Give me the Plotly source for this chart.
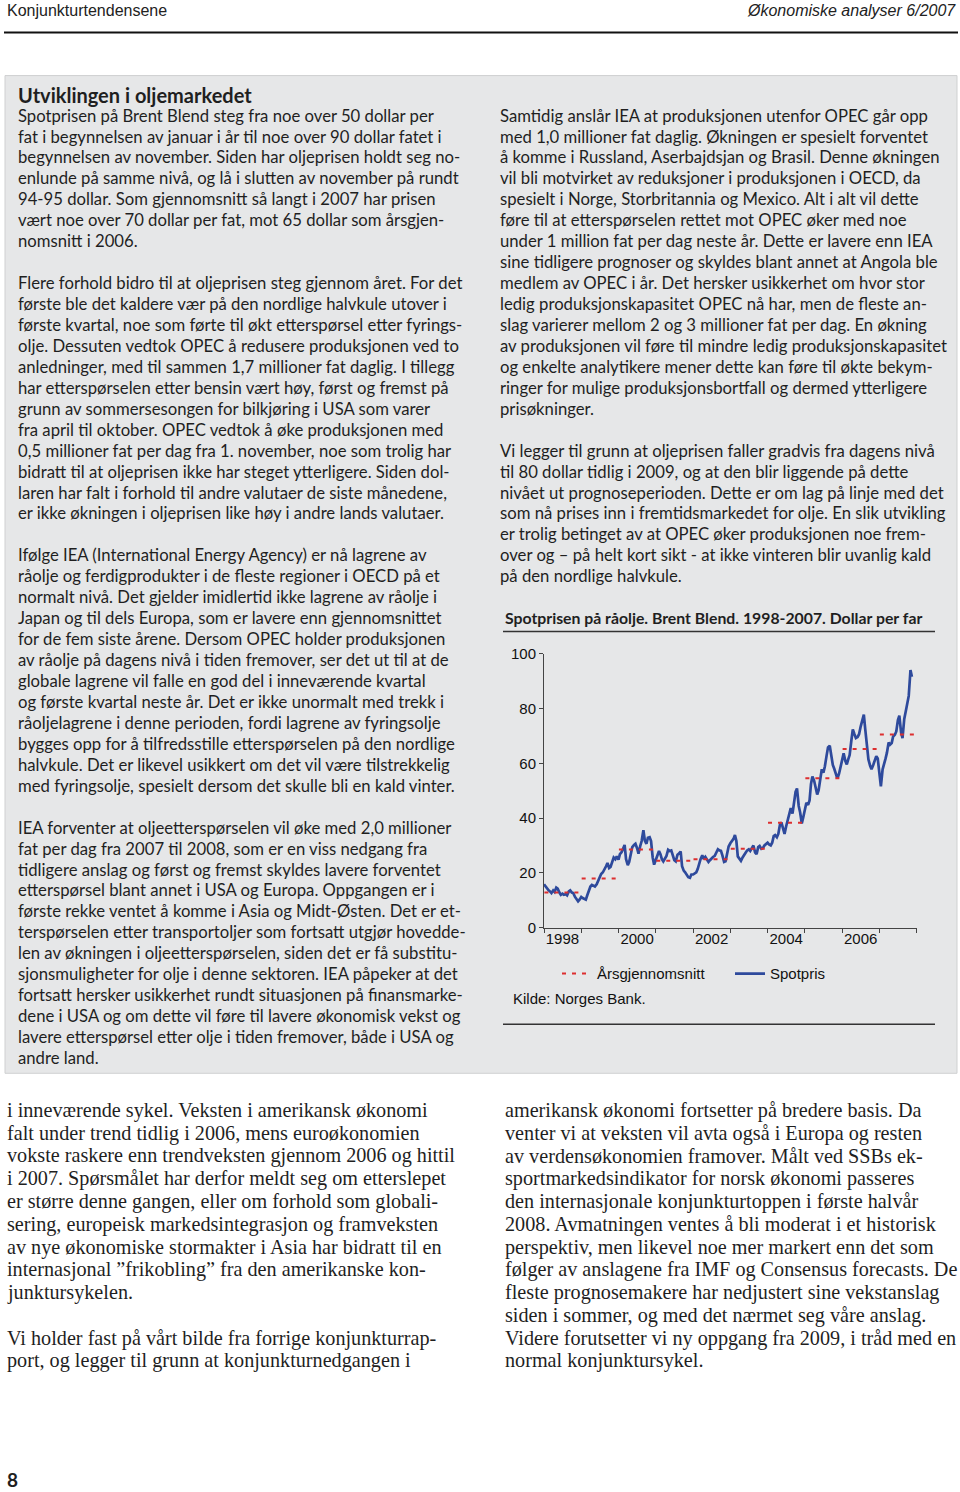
import plotly.graph_objects as go
import pandas as pd

W, H = 960, 1492

# ---------------- data ----------------
# Brent Blend spot price, semi-monthly readings (1st and 15th), USD per barrel
spot_1998 = [15.8, 15.0, 14.2, 13.6, 13.2, 12.6, 13.6, 13.0, 14.6, 14.2, 12.8, 12.0,
             12.4, 12.0, 12.2, 11.8, 13.2, 13.6, 12.8, 12.6, 11.2, 10.4, 9.6, 10.2]
spot_1999 = [11.2, 10.8, 10.4, 10.2, 11.8, 13.6, 15.0, 15.6, 15.4, 15.0, 15.8, 17.2,
             18.6, 19.6, 20.2, 21.0, 22.4, 23.6, 21.8, 22.2, 24.4, 25.6, 25.0, 26.0]
spot_2000 = [24.8, 26.8, 27.6, 29.0, 30.2, 25.0, 22.8, 24.0, 27.2, 29.4, 30.2, 30.6,
             29.0, 27.0, 29.8, 31.6, 35.6, 31.8, 30.6, 32.8, 33.0, 31.6, 25.6, 23.0]
spot_2001 = [24.8, 26.2, 28.0, 26.8, 25.0, 24.2, 25.4, 26.2, 28.4, 28.0, 28.2, 26.0,
             24.6, 24.2, 26.6, 27.0, 27.8, 22.4, 20.8, 20.2, 19.2, 18.4, 18.2, 19.4]
spot_2002 = [19.4, 19.8, 20.2, 21.4, 23.6, 25.0, 26.4, 25.0, 25.8, 24.8, 24.0, 24.6,
             25.4, 25.8, 26.2, 27.6, 28.6, 28.2, 28.0, 26.4, 24.0, 24.2, 27.0, 29.6]
spot_2003 = [30.8, 31.6, 32.4, 33.8, 31.6, 26.0, 25.0, 24.4, 25.6, 26.6, 27.4, 28.2,
             28.6, 28.0, 29.4, 30.0, 27.4, 26.8, 29.4, 29.8, 28.8, 29.0, 30.0, 30.4]
spot_2004 = [31.0, 30.4, 30.0, 31.0, 33.4, 33.8, 33.0, 34.2, 37.6, 38.4, 35.4, 34.2,
             37.0, 39.2, 42.4, 43.6, 41.6, 45.0, 49.6, 50.8, 44.4, 42.0, 38.0, 40.2]
spot_2005 = [42.8, 45.6, 44.8, 46.4, 52.4, 55.2, 53.6, 51.2, 48.6, 50.2, 55.0, 57.8,
             56.6, 58.8, 62.8, 65.8, 66.4, 62.2, 59.4, 58.0, 56.2, 54.4, 56.2, 58.4]
spot_2006 = [61.4, 63.6, 60.8, 59.6, 61.4, 63.0, 68.4, 72.4, 70.6, 69.2, 69.6, 70.6,
             73.4, 75.8, 77.8, 72.4, 64.6, 61.4, 59.2, 57.8, 59.4, 60.6, 62.6, 61.8]
spot_2007 = [55.4, 51.6, 57.8, 59.4, 61.6, 63.8, 67.6, 66.8, 67.4, 69.8, 70.4, 71.6,
             75.8, 77.4, 71.2, 69.2, 76.2, 78.8, 81.6, 84.6, 94.0, 91.6]

avg_years = [1998, 1999, 2000, 2001, 2002, 2003, 2004, 2005, 2006, 2007]
avg_values = [12.8, 17.9, 28.5, 24.4, 25.0, 28.8, 38.3, 54.5, 65.2, 70.5]

year_ticks = [str(y) for y in range(1998, 2009)]
year_labels = ["1998", "2000", "2002", "2004", "2006"]
y_ticks = [0, 20, 40, 60, 80, 100]

chart_title = "Spotprisen på råolje. Brent Blend. 1998-2007. Dollar per far"
name_avg = "Årsgjennomsnitt"
name_spot = "Spotpris"
source = "Kilde: Norges Bank."

spot_values = (spot_1998 + spot_1999 + spot_2000 + spot_2001 + spot_2002 +
               spot_2003 + spot_2004 + spot_2005 + spot_2006 + spot_2007)
spot_dates = pd.date_range("1998-01-01", periods=len(spot_values), freq="SMS")

avg_x, avg_y = [], []
for yr, v in zip(avg_years, avg_values):
    avg_x += [f"{yr}-01-05", f"{yr}-12-20", None]
    avg_y += [v, v, None]

# ---------------- text ----------------
header_left = "Konjunkturtendensene"
header_right = "Økonomiske analyser 6/2007"
box_title = "Utviklingen i oljemarkedet"
page_no = "8"

p1 = ["Spotprisen på Brent Blend steg fra noe over 50 dollar per",
      "fat i begynnelsen av januar i år til noe over 90 dollar fatet i",
      "begynnelsen av november. Siden har oljeprisen holdt seg no-",
      "enlunde på samme nivå, og lå i slutten av november på rundt",
      "94-95 dollar. Som gjennomsnitt så langt i 2007 har prisen",
      "vært noe over 70 dollar per fat, mot 65 dollar som årsgjen-",
      "nomsnitt i 2006."]
p2 = ["Flere forhold bidro til at oljeprisen steg gjennom året. For det",
      "første ble det kaldere vær på den nordlige halvkule utover i",
      "første kvartal, noe som førte til økt etterspørsel etter fyrings-",
      "olje. Dessuten vedtok OPEC å redusere produksjonen ved to",
      "anledninger, med til sammen 1,7 millioner fat daglig. I tillegg",
      "har etterspørselen etter bensin vært høy, først og fremst på",
      "grunn av sommersesongen for bilkjøring i USA som varer",
      "fra april til oktober. OPEC vedtok å øke produksjonen med",
      "0,5 millioner fat per dag fra 1. november, noe som trolig har",
      "bidratt til at oljeprisen ikke har steget ytterligere. Siden dol-",
      "laren har falt i forhold til andre valutaer de siste månedene,",
      "er ikke økningen i oljeprisen like høy i andre lands valutaer."]
p3 = ["Ifølge IEA (International Energy Agency) er nå lagrene av",
      "råolje og ferdigprodukter i de fleste regioner i OECD på et",
      "normalt nivå. Det gjelder imidlertid ikke lagrene av råolje i",
      "Japan og til dels Europa, som er lavere enn gjennomsnittet",
      "for de fem siste årene. Dersom OPEC holder produksjonen",
      "av råolje på dagens nivå i tiden fremover, ser det ut til at de",
      "globale lagrene vil falle en god del i inneværende kvartal",
      "og første kvartal neste år. Det er ikke unormalt med trekk i",
      "råoljelagrene i denne perioden, fordi lagrene av fyringsolje",
      "bygges opp for å tilfredsstille etterspørselen på den nordlige",
      "halvkule. Det er likevel usikkert om det vil være tilstrekkelig",
      "med fyringsolje, spesielt dersom det skulle bli en kald vinter."]
p4 = ["IEA forventer at oljeetterspørselen vil øke med 2,0 millioner",
      "fat per dag fra 2007 til 2008, som er en viss nedgang fra",
      "tidligere anslag og først og fremst skyldes lavere forventet",
      "etterspørsel blant annet i USA og Europa. Oppgangen er i",
      "første rekke ventet å komme i Asia og Midt-Østen. Det er et-",
      "terspørselen etter transportoljer som fortsatt utgjør hovedde-",
      "len av økningen i oljeetterspørselen, siden det er få substitu-",
      "sjonsmuligheter for olje i denne sektoren. IEA påpeker at det",
      "fortsatt hersker usikkerhet rundt situasjonen på finansmarke-",
      "dene i USA og om dette vil føre til lavere økonomisk vekst og",
      "lavere etterspørsel etter olje i tiden fremover, både i USA og",
      "andre land."]
p5 = ["Samtidig anslår IEA at produksjonen utenfor OPEC går opp",
      "med 1,0 millioner fat daglig. Økningen er spesielt forventet",
      "å komme i Russland, Aserbajdsjan og Brasil. Denne økningen",
      "vil bli motvirket av reduksjoner i produksjonen i OECD, da",
      "spesielt i Norge, Storbritannia og Mexico. Alt i alt vil dette",
      "føre til at etterspørselen rettet mot OPEC øker med noe",
      "under 1 million fat per dag neste år. Dette er lavere enn IEA",
      "sine tidligere prognoser og skyldes blant annet at Angola ble",
      "medlem av OPEC i år. Det hersker usikkerhet om hvor stor",
      "ledig produksjonskapasitet OPEC nå har, men de fleste an-",
      "slag varierer mellom 2 og 3 millioner fat per dag. En økning",
      "av produksjonen vil føre til mindre ledig produksjonskapasitet",
      "og enkelte analytikere mener dette kan føre til økte bekym-",
      "ringer for mulige produksjonsbortfall og dermed ytterligere",
      "prisøkninger."]
p6 = ["Vi legger til grunn at oljeprisen faller gradvis fra dagens nivå",
      "til 80 dollar tidlig i 2009, og at den blir liggende på dette",
      "nivået ut prognoseperioden. Dette er om lag på linje med det",
      "som nå prises inn i fremtidsmarkedet for olje. En slik utvikling",
      "er trolig betinget av at OPEC øker produksjonen noe frem-",
      "over og – på helt kort sikt - at ikke vinteren blir uvanlig kald",
      "på den nordlige halvkule."]
b1 = ["i inneværende sykel. Veksten i amerikansk økonomi",
      "falt under trend tidlig i 2006, mens euroøkonomien",
      "vokste raskere enn trendveksten gjennom 2006 og hittil",
      "i 2007. Spørsmålet har derfor meldt seg om etterslepet",
      "er større denne gangen, eller om forhold som globali-",
      "sering, europeisk markedsintegrasjon og framveksten",
      "av nye økonomiske stormakter i Asia har bidratt til en",
      "internasjonal ”frikobling” fra den amerikanske kon-",
      "junktursykelen."]
b2 = ["Vi holder fast på vårt bilde fra forrige konjunkturrap-",
      "port, og legger til grunn at konjunkturnedgangen i"]
b3 = ["amerikansk økonomi fortsetter på bredere basis. Da",
      "venter vi at veksten vil avta også i Europa og resten",
      "av verdensøkonomien framover. Målt ved SSBs ek-",
      "sportmarkedsindikator for norsk økonomi passeres",
      "den internasjonale konjunkturtoppen i første halvår",
      "2008. Avmatningen ventes å bli moderat i et historisk",
      "perspektiv, men likevel noe mer markert enn det som",
      "følger av anslagene fra IMF og Consensus forecasts. De",
      "fleste prognosemakere har nedjustert sine vekstanslag",
      "siden i sommer, og med det nærmet seg våre anslag.",
      "Videre forutsetter vi ny oppgang fra 2009, i tråd med en",
      "normal konjunktursykel."]

# ---------------- figure ----------------
BLUE = "#2e4a9c"
RED = "#dc2f2f"
GREY = "#e6e7e8"
INK = "#1f1f1f"
SANS = "Lato, 'Noto Sans', sans-serif"
ARIAL = "'Liberation Sans', Arial, sans-serif"
SERIF = "'Liberation Serif', 'DejaVu Serif', serif"

# vertical calibration of page positions (observed offset/scale of the capture)
Y_OFF = 8.4
Y_SCALE = 0.9889


def px(x):
    return x / W


def py(y):
    return 1 - ((y - Y_OFF) / Y_SCALE) / H


fig = go.Figure()

fig.add_trace(go.Scatter(
    x=spot_dates, y=spot_values, mode="lines", name=name_spot,
    line=dict(color=BLUE, width=2.7), legendrank=2, hoverinfo="skip"))
fig.add_trace(go.Scatter(
    x=avg_x, y=avg_y, mode="lines", name=name_avg, xaxis="x2",
    line=dict(color=RED, width=2, dash="4px,6px"), legendrank=1,
    hoverinfo="skip", connectgaps=False))

x_dom = [px(544), px(916.7)]
y_dom = [py(927.3), py(653.3)]
x_range = ["1998-01-01", "2008-01-01"]

fig.update_layout(
    width=W, height=H,
    margin=dict(l=0, r=0, t=0, b=0),
    paper_bgcolor="white",
    plot_bgcolor="rgba(0,0,0,0)",
    xaxis=dict(domain=x_dom, range=x_range, type="date",
               tickvals=[f"{y}-01-01" for y in year_ticks],
               showticklabels=False, ticks="outside", ticklen=4, tickwidth=1,
               tickcolor="#444", showline=True, linecolor="#444", linewidth=1,
               showgrid=False, zeroline=False, anchor="y", fixedrange=True),
    xaxis2=dict(domain=x_dom, range=x_range, type="date", overlaying="x",
                anchor="y", side="bottom",
                tickvals=[f"{y}-07-01" for y in year_labels], ticktext=year_labels,
                ticks="", showline=False, showgrid=False, zeroline=False,
                tickfont=dict(family=ARIAL, size=15, color="#111")),
    yaxis=dict(domain=y_dom, range=[0, 100], tickvals=y_ticks,
               ticks="outside", ticklen=4, tickwidth=1, tickcolor="#444",
               showline=True, linecolor="#444", linewidth=1,
               showgrid=False, zeroline=False, anchor="x",
               tickfont=dict(family=ARIAL, size=15, color="#111")),
    showlegend=True,
    legend=dict(orientation="h", x=px(557), y=py(957), xanchor="left",
                yanchor="top", bgcolor="rgba(0,0,0,0)",
                font=dict(family=ARIAL, size=15, color="#111"),
                entrywidth=128, entrywidthmode="pixels", tracegroupgap=0),
)

shapes = [
    # grey article box
    dict(type="rect", xref="paper", yref="paper", x0=px(5), x1=px(957),
         y0=py(1073), y1=py(75), fillcolor=GREY,
         line=dict(color="#cfd0d1", width=1), layer="below"),
    # header rule
    dict(type="line", xref="paper", yref="paper", x0=px(4), x1=px(958),
         y0=py(32), y1=py(32), line=dict(color="#111", width=2)),
    # chart title rule
    dict(type="line", xref="paper", yref="paper", x0=px(503), x1=px(935),
         y0=py(631), y1=py(631), line=dict(color="#333", width=1.5)),
    # chart bottom rule
    dict(type="line", xref="paper", yref="paper", x0=px(503), x1=px(935),
         y0=py(1024), y1=py(1024), line=dict(color="#333", width=1.5)),
]
fig.update_layout(shapes=shapes)


def line_text(x, y, s, size, family, color=INK, xanchor="left", bold=False,
              italic=False):
    if bold:
        s = f"<b>{s}</b>"
    if italic:
        s = f"<i>{s}</i>"
    fig.add_annotation(
        xref="paper", yref="paper", x=px(x), y=py(y),
        xanchor=xanchor, yanchor="middle", align="left", showarrow=False,
        text=s, font=dict(family=family, size=size, color=color))


def column(x, y0, step, lines, size, family, color=INK):
    for i, ln in enumerate(lines):
        if ln:
            line_text(x, y0 + i * step, ln, size, family, color)


line_text(5, 10, header_left, 16, ARIAL, "#222")
line_text(958, 10, header_right, 16, ARIAL, "#222", xanchor="right", italic=True)

BODY = 16.7
STEP = 20.95
line_text(16, 94, box_title, 20, SANS, bold=True)
column(16, 115, STEP, p1 + [""] + p2 + [""] + p3 + [""] + p4, BODY, SANS)
column(498, 115, STEP, p5 + [""] + p6, BODY, SANS)

line_text(503, 617, chart_title, 15.8, SANS, bold=True)
line_text(511, 998, source, 15, ARIAL, "#111")

SER = 20.2
SSTEP = 22.8
column(5, 1110, SSTEP, b1 + [""] + b2, SER, SERIF)
column(503, 1110, SSTEP, b3, SER, SERIF)

line_text(5, 1479, page_no, 19, SANS, bold=True)

post = (
    "document.body.style.margin='0px';"
    "document.documentElement.style.overflow='hidden';"
)

fig.write_html("out.html", config={"displayModeBar": False}, post_script=post)
